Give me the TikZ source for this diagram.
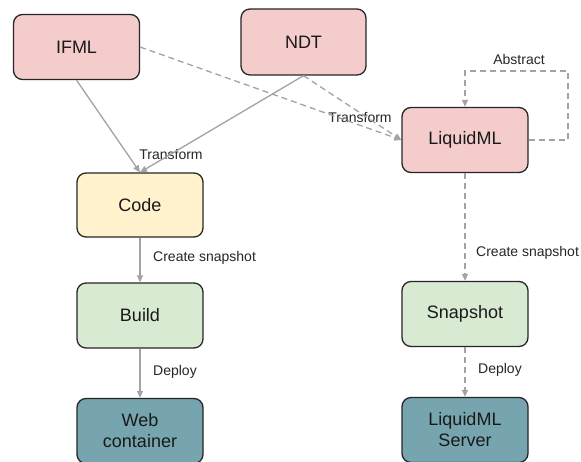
\documentclass[tikz,border=0pt]{standalone}
\usepackage{fontspec}
\setmainfont{Liberation Sans}
\usetikzlibrary{arrows.meta}
\definecolor{pinkfill}{HTML}{F4CCCC}
\definecolor{yellowfill}{HTML}{FFF2CC}
\definecolor{greenfill}{HTML}{D9EAD3}
\definecolor{tealfill}{HTML}{76A5AF}
\definecolor{edgegray}{HTML}{A3A3A3}
\definecolor{boxborder}{HTML}{262626}
\tikzset{
  box/.style={draw=boxborder, line width=1.3pt, rounded corners=9pt,
    minimum width=126pt, minimum height=65pt, align=center,
    font=\fontsize{18}{21}\selectfont, text=black!90},
  conn/.style={draw=edgegray, line width=1.3pt,
    -{Triangle[length=7pt,width=6pt]}},
  dconn/.style={conn, dash pattern=on 6pt off 4pt},
  lbl/.style={font=\fontsize{14}{16}\selectfont, text=black!85, inner sep=0pt}
}
\begin{document}
\begin{tikzpicture}[x=1pt,y=-1pt]
\useasboundingbox[fill=white] (0,0) rectangle (581,461);
% nodes
\node[box, fill=pinkfill] (ifml) at (76.5,47) {IFML};
\node[box, fill=pinkfill, minimum width=125pt, minimum height=66pt] (ndt) at (303.5,42) {NDT};
\node[box, fill=pinkfill] (lml) at (465,140) {LiquidML};
\node[box, fill=yellowfill, minimum height=64pt] (code) at (140,205) {Code};
\node[box, fill=greenfill] (build) at (140,315.5) {Build};
\node[box, fill=tealfill] (web) at (140,431) {Web\\container};
\node[box, fill=greenfill] (snap) at (465,314) {Snapshot};
\node[box, fill=tealfill] (srv) at (465,430) {LiquidML\\Server};
% labels
\node[lbl] (t1) at (171,154) {Transform};
\node[lbl] (t2) at (360,117) {Transform};
\node[lbl] (abs) at (519,59) {Abstract};
\node[lbl, anchor=west] (cs1) at (153,258) {Create snapshot};
\node[lbl, anchor=west] (dp1) at (153,372) {Deploy};
\node[lbl, anchor=west] (cs2) at (476,253) {Create snapshot};
\node[lbl, anchor=west] (dp2) at (478,370) {Deploy};
% loop corners
\coordinate (c1) at (568,140);
\coordinate (c2) at (568,71);
\coordinate (c3) at (465,71);
% connectors
\draw[conn] (ifml.south) -- (code.north);
\draw[conn] (ndt.south) -- (code.north);
\draw[dconn] (ifml.east) -- (lml.west);
\draw[dconn] (ndt.south) -- (lml.west);
\draw[dconn] (lml.east) -- (c1) -- (c2) -- (c3) -- (lml.north);
\draw[conn] (code.south) -- (build.north);
\draw[conn] (build.south) -- (web.north);
\draw[dconn] (lml.south) -- (snap.north);
\draw[dconn] (snap.south) -- (srv.north);
\end{tikzpicture}
\end{document}
